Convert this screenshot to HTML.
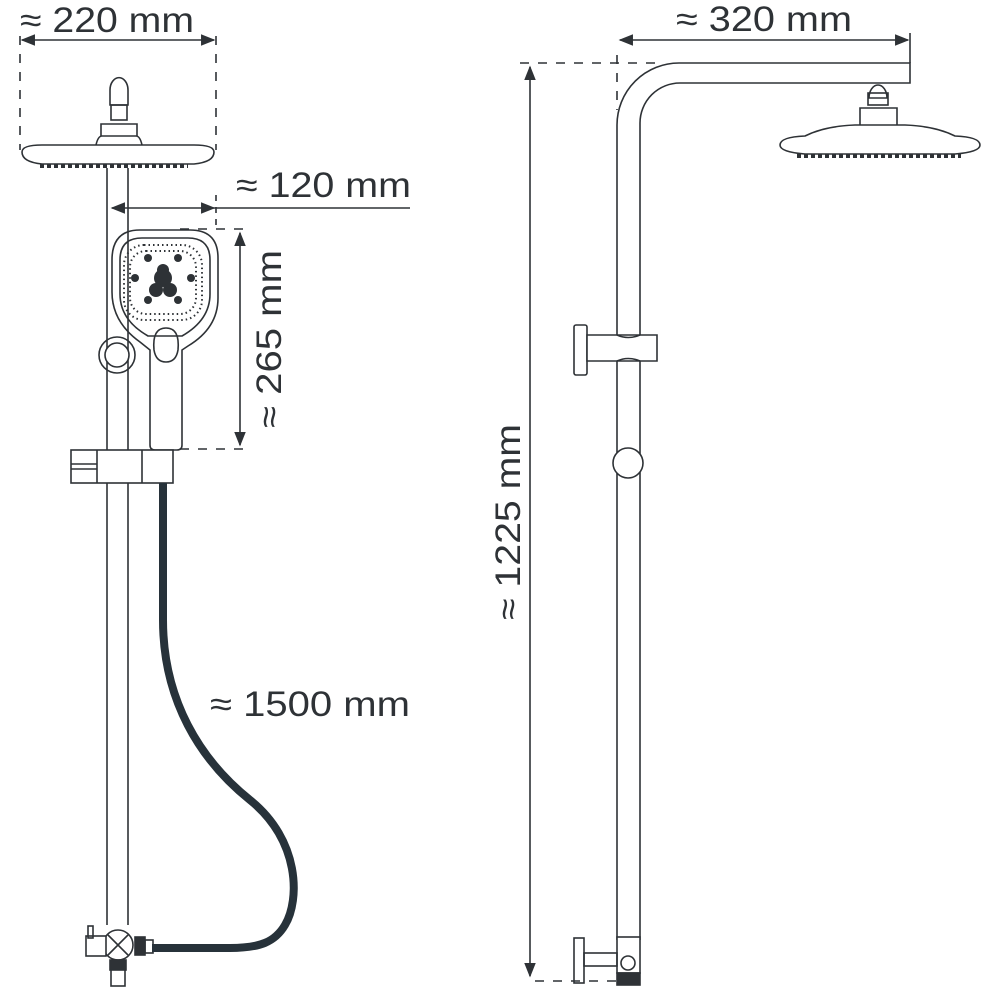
<!DOCTYPE html>
<html><head><meta charset="utf-8"><style>
html,body{margin:0;padding:0;background:#fff;}
svg{display:block;}
text{font-family:"Liberation Sans",sans-serif;fill:#2e3236;}
</style></head><body>
<svg width="992" height="992" viewBox="0 0 992 992" xmlns="http://www.w3.org/2000/svg">
<defs>
<marker id="ar" viewBox="0 0 10 10" refX="9" refY="5" markerWidth="9" markerHeight="9" orient="auto-start-reverse"><path d="M0,1 L10,5 L0,9 Z" fill="#2e3236"/></marker>
</defs>
<g stroke="#2e3236" stroke-width="1.6" fill="none">
<line x1="22" y1="40" x2="214" y2="40" marker-start="url(#ar)" marker-end="url(#ar)"/>
<line x1="20" y1="36" x2="20" y2="150" stroke-dasharray="9,9"/>
<line x1="216" y1="36" x2="216" y2="150" stroke-dasharray="9,9"/>
<path d="M110,90 a8,11 0 0 1 18,0 v15 h-18 z"/>
<rect x="111" y="105" width="16" height="15"/>
<path d="M101,136 v-12 h36 v12"/>
<path d="M96,145 q2,-9 6,-9 h34 q4,0 6,9"/>
<path d="M22,152 q0,-7 20,-7 h152 q20,0 20,7 q0,10 -20,12 h-152 q-20,-2 -20,-12 z"/>
<path d="M40,166 h148" stroke-width="4" stroke-dasharray="4,3"/>
<line x1="107" y1="168" x2="107" y2="925"/>
<line x1="128" y1="168" x2="128" y2="925"/>
<line x1="112" y1="208" x2="214" y2="208" marker-start="url(#ar)" marker-end="url(#ar)"/>
<line x1="214" y1="208" x2="410" y2="208"/>
<line x1="216" y1="195" x2="216" y2="230" stroke-dasharray="6,6"/>
<line x1="180" y1="229" x2="250" y2="229" stroke-dasharray="9,9"/>
<line x1="180" y1="449" x2="250" y2="449" stroke-dasharray="9,9"/>
<line x1="240" y1="233" x2="240" y2="445" marker-start="url(#ar)" marker-end="url(#ar)"/>
<path d="M140,230 h50 q28,0 28,28 v40 q0,30 -30,48 l-6,4 v95 q0,5 -5,5 h-22 q-5,0 -5,-5 v-95 l-10,-8 q-28,-20 -28,-50 v-32 q0,-30 28,-30 z"/>
<path d="M142,238 h46 q22,0 22,22 v34 q0,26 -28,42 h-34 q-28,-16 -28,-42 v-34 q0,-22 22,-22 z"/>
<path d="M154,350 q-2,-22 12,-22 q14,0 12,22 q-2,12 -12,12 q-10,0 -12,-12 z"/>
<circle cx="117" cy="355" r="18"/>
<circle cx="117" cy="355" r="12" fill="#fff"/>
<rect x="71" y="450" width="102" height="33" fill="#fff"/>
<line x1="97" y1="450" x2="97" y2="483"/>
<line x1="142" y1="450" x2="142" y2="483"/>
<line x1="71" y1="464" x2="97" y2="464"/><line x1="71" y1="469" x2="97" y2="469"/>
<circle cx="118" cy="945" r="15" fill="#fff"/>
<path d="M108,935 l20,20 M128,935 l-20,20"/>
<rect x="86" y="936" width="20" height="20" fill="#fff"/>
<rect x="88" y="926" width="5" height="12"/>
<rect x="110" y="960" width="16" height="10" fill="#2e3236"/>
<rect x="111" y="970" width="14" height="16" fill="#fff"/>
<rect x="135" y="937" width="10" height="18" fill="#2e3236"/>
<rect x="145" y="940" width="8" height="13"/>
</g>
<path d="M163,483 V620 C163,700 200,760 250,800 C300,840 300,900 285,925 C275,942 260,948 230,948 H152" stroke="#27323a" stroke-width="8" fill="none"/>
<g fill="#2e3236">
<circle cx="163" cy="278" r="9"/><circle cx="156" cy="290" r="7"/><circle cx="170" cy="290" r="7"/><circle cx="163" cy="270" r="6"/>
<circle cx="148" cy="258" r="4"/><circle cx="178" cy="258" r="4"/><circle cx="135" cy="278" r="4"/><circle cx="191" cy="278" r="4"/><circle cx="148" cy="300" r="4"/><circle cx="178" cy="300" r="4"/>
</g>
<g fill="none" stroke="#2e3236" stroke-width="2" stroke-dasharray="1.5,3">
<rect x="124" y="245" width="78" height="75" rx="20"/>
<rect x="130" y="251" width="66" height="63" rx="16"/>
</g>
<g stroke="#2e3236" stroke-width="1.6" fill="none">
<line x1="620" y1="40" x2="908" y2="40" marker-start="url(#ar)" marker-end="url(#ar)"/>
<line x1="910" y1="33" x2="910" y2="63"/>
<line x1="520" y1="63" x2="660" y2="63" stroke-dasharray="9,9"/>
<line x1="617" y1="55" x2="617" y2="110" stroke-dasharray="9,9"/>
<path d="M617,940 V125 A62,62 0 0 1 679,63 H910 V83 H680 A40,40 0 0 0 640,123 V940"/>
<line x1="530" y1="67" x2="530" y2="976" marker-start="url(#ar)" marker-end="url(#ar)"/>
<line x1="535" y1="981" x2="630" y2="981" stroke-dasharray="9,9"/>
<path d="M869,98 a9,13 0 0 1 18,0 z"/>
<rect x="868" y="93" width="20" height="12"/>
<path d="M860,125 v-17 h37 v17"/>
<path d="M780,145 q0,-8 25,-9 q20,-10 50,-11 h50 q30,1 50,11 q25,1 25,9 q0,7 -25,9 h-150 q-25,-2 -25,-9 z"/>
<path d="M797,156 h164" stroke-width="4" stroke-dasharray="4,3"/>
<rect x="574" y="325" width="13" height="50" rx="2" fill="#fff"/>
<path d="M587,335 h70 v26 h-70 z" fill="#fff"/>
<path d="M617,335 q11,5 23,0 M617,361 q11,-5 23,0"/>
<circle cx="628" cy="463" r="15" fill="#fff"/>
<rect x="617" y="937" width="23" height="36" fill="#fff"/>
<circle cx="628" cy="963" r="7"/>
<rect x="617" y="973" width="23" height="12" fill="#2e3236"/>
<rect x="574" y="938" width="10" height="45"/>
<rect x="584" y="953" width="33" height="13"/>
</g>
<text x="20" y="32" font-size="35" textLength="174" lengthAdjust="spacingAndGlyphs">≈ 220 mm</text>
<text x="236" y="197" font-size="35" textLength="175" lengthAdjust="spacingAndGlyphs">≈ 120 mm</text>
<text x="210" y="716" font-size="35" textLength="200" lengthAdjust="spacingAndGlyphs">≈ 1500 mm</text>
<text x="676" y="31" font-size="35" textLength="176" lengthAdjust="spacingAndGlyphs">≈ 320 mm</text>
<text transform="translate(281,339) rotate(-90)" text-anchor="middle" font-size="35" textLength="178" lengthAdjust="spacingAndGlyphs">≈ 265 mm</text>
<text transform="translate(520,522) rotate(-90)" text-anchor="middle" font-size="35" textLength="196" lengthAdjust="spacingAndGlyphs">≈ 1225 mm</text>
</svg>
</body></html>
